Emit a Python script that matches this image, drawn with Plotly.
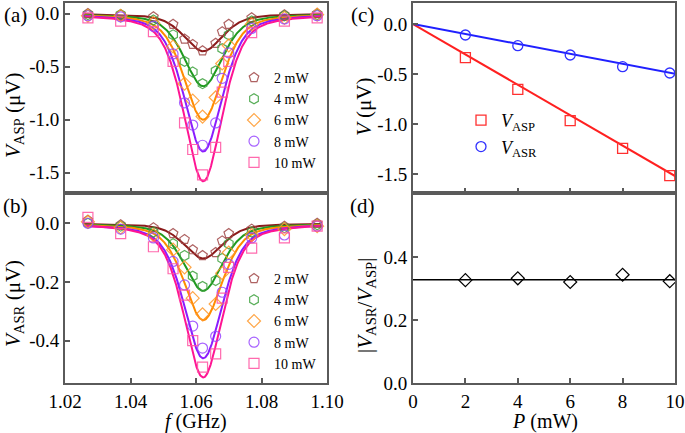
import numpy as np
import plotly.graph_objects as go

# ---------------- data ----------------
freq = [1.027, 1.037, 1.047, 1.053, 1.0565, 1.059, 1.062, 1.066, 1.068, 1.070, 1.077, 1.087, 1.097]
powers = ["2 mW", "4 mW", "6 mW", "8 mW", "10 mW"]

asp_2 = [0.00, -0.01, -0.03, -0.10, -0.24, -0.29, -0.35, -0.28, -0.17, -0.10, -0.04, -0.01, 0.00]
asp_4 = [-0.01, -0.01, -0.06, -0.20, -0.45, -0.55, -0.66, -0.54, -0.33, -0.20, -0.07, -0.02, -0.01]
asp_6 = [-0.02, -0.02, -0.09, -0.31, -0.66, -0.82, -0.97, -0.79, -0.47, -0.30, -0.10, -0.04, -0.01]
asp_8 = [-0.02, -0.03, -0.12, -0.38, -0.84, -1.05, -1.24, -1.03, -0.61, -0.37, -0.14, -0.05, -0.02]
asp_10 = [-0.04, -0.07, -0.17, -0.45, -1.03, -1.28, -1.52, -1.26, -0.74, -0.45, -0.18, -0.07, -0.04]

asr_2 = [0.01, -0.005, -0.015, -0.035, -0.055, -0.09, -0.11, -0.10, -0.06, -0.035, -0.02, -0.01, 0.00]
asr_4 = [0.00, -0.01, -0.03, -0.07, -0.11, -0.18, -0.215, -0.195, -0.12, -0.07, -0.03, -0.015, -0.005]
asr_6 = [0.005, -0.015, -0.04, -0.09, -0.15, -0.255, -0.31, -0.275, -0.17, -0.10, -0.04, -0.02, -0.01]
asr_8 = [0.00, -0.02, -0.05, -0.13, -0.21, -0.35, -0.425, -0.385, -0.235, -0.14, -0.05, -0.04, -0.01]
asr_10 = [0.02, -0.035, -0.08, -0.155, -0.245, -0.40, -0.49, -0.445, -0.255, -0.15, -0.085, -0.05, -0.01]

# resonance fit parameters (pseudo-Voigt line shape)
asp_amp = [0.355, 0.685, 1.00, 1.30, 1.58]
asr_amp = [0.12, 0.23, 0.33, 0.46, 0.525]
f_center = 1.0622
f_hwhm = 0.0070
lorentz_frac = 0.5

# panel (c)/(d)
P = [2, 4, 6, 8, 9.8]
V_asp = [-0.337, -0.653, -0.967, -1.243, -1.517]
V_asr = [-0.11, -0.217, -0.31, -0.427, -0.49]
slope_asp = -0.152
slope_asr = -0.0498

# tick labels
ya_ticks = [0.0, -0.5, -1.0, -1.5]
yb_ticks = [0.0, -0.2, -0.4]
yc_ticks = [0.0, -0.5, -1.0, -1.5]
yd_ticks = [0.0, 0.2, 0.4]
xf_ticks = [1.02, 1.04, 1.06, 1.08, 1.10]
xp_ticks = [0, 2, 4, 6, 8, 10]

# ---------------- styling ----------------
W, H = 685, 433
FONT = "Liberation Serif"
line_cols = ["#8b1a1a", "#1f9a1f", "#ff8c00", "#8a1cff", "#ff1493"]
mk_cols = ["rgba(160,70,70,0.85)", "rgba(60,160,60,0.85)", "rgba(255,150,40,0.85)",
           "rgba(150,70,255,0.85)", "rgba(255,80,160,0.85)"]
symbols = ["pentagon-open", "hexagon-open", "diamond-open", "circle-open", "square-open"]
AX = "#5a5a5a"

def px_x(x):
    return x / W

def px_y(y):
    return 1 - y / H

fig = go.Figure()

f_fine = np.linspace(1.026, 1.0985, 600)
asp_sets = [asp_2, asp_4, asp_6, asp_8, asp_10]
asr_sets = [asr_2, asr_4, asr_6, asr_8, asr_10]

u2 = ((f_fine - f_center) / f_hwhm) ** 2
shape = lorentz_frac / (1.0 + u2) + (1 - lorentz_frac) * np.exp(-np.log(2) * u2)

for i in range(5):
    fig.add_trace(go.Scatter(x=f_fine, y=-asp_amp[i] * shape, mode="lines",
                             line=dict(color=line_cols[i], width=2), showlegend=False,
                             xaxis="x", yaxis="y"))
    fig.add_trace(go.Scatter(x=f_fine, y=-asr_amp[i] * shape, mode="lines",
                             line=dict(color=line_cols[i], width=2), showlegend=False,
                             xaxis="x2", yaxis="y2"))
for i in range(5):
    fig.add_trace(go.Scatter(x=freq, y=asp_sets[i], mode="markers", name=powers[i],
                             marker=dict(symbol=symbols[i], size=10, color=mk_cols[i],
                                         line=dict(width=1.2, color=mk_cols[i])),
                             xaxis="x", yaxis="y", legend="legend"))
    fig.add_trace(go.Scatter(x=freq, y=asr_sets[i], mode="markers", name=powers[i],
                             marker=dict(symbol=symbols[i], size=10, color=mk_cols[i],
                                         line=dict(width=1.2, color=mk_cols[i])),
                             xaxis="x2", yaxis="y2", legend="legend2"))

# panel (c)
Pfit = np.array([0, 10.05])
fig.add_trace(go.Scatter(x=Pfit, y=slope_asp * Pfit, mode="lines",
                         line=dict(color="#ff2020", width=2), showlegend=False,
                         xaxis="x3", yaxis="y3"))
fig.add_trace(go.Scatter(x=Pfit, y=slope_asr * Pfit, mode="lines",
                         line=dict(color="#2020ff", width=2), showlegend=False,
                         xaxis="x3", yaxis="y3"))
fig.add_trace(go.Scatter(x=P, y=V_asp, mode="markers", name="<i>V</i><sub>ASP</sub>",
                         marker=dict(symbol="square-open", size=10, color="#ff3030",
                                     line=dict(width=1.3)),
                         xaxis="x3", yaxis="y3", legend="legend3"))
fig.add_trace(go.Scatter(x=P, y=V_asr, mode="markers", name="<i>V</i><sub>ASR</sub>",
                         marker=dict(symbol="circle-open", size=10, color="#3030ff",
                                     line=dict(width=1.3)),
                         xaxis="x3", yaxis="y3", legend="legend3"))

# panel (d)
ratio = [abs(a / b) for a, b in zip(V_asr, V_asp)]
ratio_fit = slope_asr / slope_asp
fig.add_trace(go.Scatter(x=Pfit, y=[ratio_fit, ratio_fit], mode="lines",
                         line=dict(color="black", width=1.5), showlegend=False,
                         xaxis="x4", yaxis="y4"))
fig.add_trace(go.Scatter(x=P, y=ratio, mode="markers", showlegend=False,
                         marker=dict(symbol="diamond-open", size=10, color="black",
                                     line=dict(width=1.2)),
                         xaxis="x4", yaxis="y4"))

def fmt(v, nd=1):
    s = f"{v:.{nd}f}"
    if s.startswith("-") and float(s) == 0:
        s = s[1:]
    return s

common_ax = dict(showline=True, linecolor=AX, linewidth=1.8, mirror=True,
                 ticks="inside", ticklen=5, tickwidth=1.5, tickcolor=AX,
                 showgrid=False, zeroline=False, automargin=False,
                 tickfont=dict(family=FONT, size=19, color="black"))

xL = [px_x(65), px_x(327)]
xR = [px_x(413), px_x(675)]
yT = [px_y(193), px_y(3)]
yB = [px_y(383), px_y(193)]

fig.update_layout(
    width=W, height=H, margin=dict(l=0, r=0, t=0, b=0, autoexpand=False),
    plot_bgcolor="white", paper_bgcolor="white",
    font=dict(family=FONT, color="black"),
    xaxis=dict(domain=xL, anchor="y", range=[1.02, 1.10], tickvals=xf_ticks,
               showticklabels=False, **common_ax),
    yaxis=dict(domain=yT, anchor="x", range=[-1.69, 0.1], tickvals=ya_ticks,
               ticktext=[fmt(v) for v in ya_ticks], **common_ax),
    xaxis2=dict(domain=xL, anchor="y2", range=[1.02, 1.10], tickvals=xf_ticks,
                ticktext=[fmt(v, 2) for v in xf_ticks], **common_ax),
    yaxis2=dict(domain=yB, anchor="x2", range=[-0.544, 0.103], tickvals=yb_ticks,
                ticktext=[fmt(v) for v in yb_ticks], **common_ax),
    xaxis3=dict(domain=xR, anchor="y3", range=[0, 10], tickvals=xp_ticks,
                showticklabels=False, **common_ax),
    yaxis3=dict(domain=yT, anchor="x3", range=[-1.69, 0.21], tickvals=yc_ticks,
                ticktext=[fmt(v) for v in yc_ticks], **common_ax),
    xaxis4=dict(domain=xR, anchor="y4", range=[0, 10], tickvals=xp_ticks,
                ticktext=[str(v) for v in xp_ticks], **common_ax),
    yaxis4=dict(domain=yB, anchor="x4", range=[0, 0.603], tickvals=yd_ticks,
                ticktext=[fmt(v) for v in yd_ticks], **common_ax),
    legend=dict(x=px_x(234), y=px_y(62), xanchor="left", yanchor="top",
                bgcolor="rgba(0,0,0,0)", font=dict(family=FONT, size=14)),
    legend2=dict(x=px_x(234), y=px_y(263), xanchor="left", yanchor="top",
                 bgcolor="rgba(0,0,0,0)", font=dict(family=FONT, size=14)),
    legend3=dict(x=px_x(461), y=px_y(102), xanchor="left", yanchor="top",
                 bgcolor="rgba(0,0,0,0)", font=dict(family=FONT, size=18)),
)

ann = []
def add_text(text, x, y, size, angle=0, xanchor="center", yanchor="middle"):
    ann.append(dict(text=text, x=px_x(x), y=px_y(y), xref="paper", yref="paper",
                    showarrow=False, textangle=angle, xanchor=xanchor, yanchor=yanchor,
                    font=dict(family=FONT, size=size, color="black")))

add_text("(a)", 15, 15, 21)
add_text("(b)", 15, 206, 21)
add_text("(c)", 362, 15, 21)
add_text("(d)", 362, 206, 21)
add_text("<i>V</i><sub>ASP</sub> (μV)", 14, 116, 21, -90)
add_text("<i>V</i><sub>ASR</sub> (μV)", 14, 304, 21, -90)
add_text("<i>V</i> (μV)", 364, 107, 21, -90)
add_text("|<i>V</i><sub>ASR</sub>/<i>V</i><sub>ASP</sub>|", 366, 305, 21, -90)
add_text("<i>f</i> (GHz)", 196, 421, 20)
add_text("<i>P</i> (mW)", 545, 421, 20)
fig.update_layout(annotations=ann)

fig.write_html("out.html", config={"displayModeBar": False},
               post_script="document.body.style.margin='0';document.body.style.overflow='hidden';")
